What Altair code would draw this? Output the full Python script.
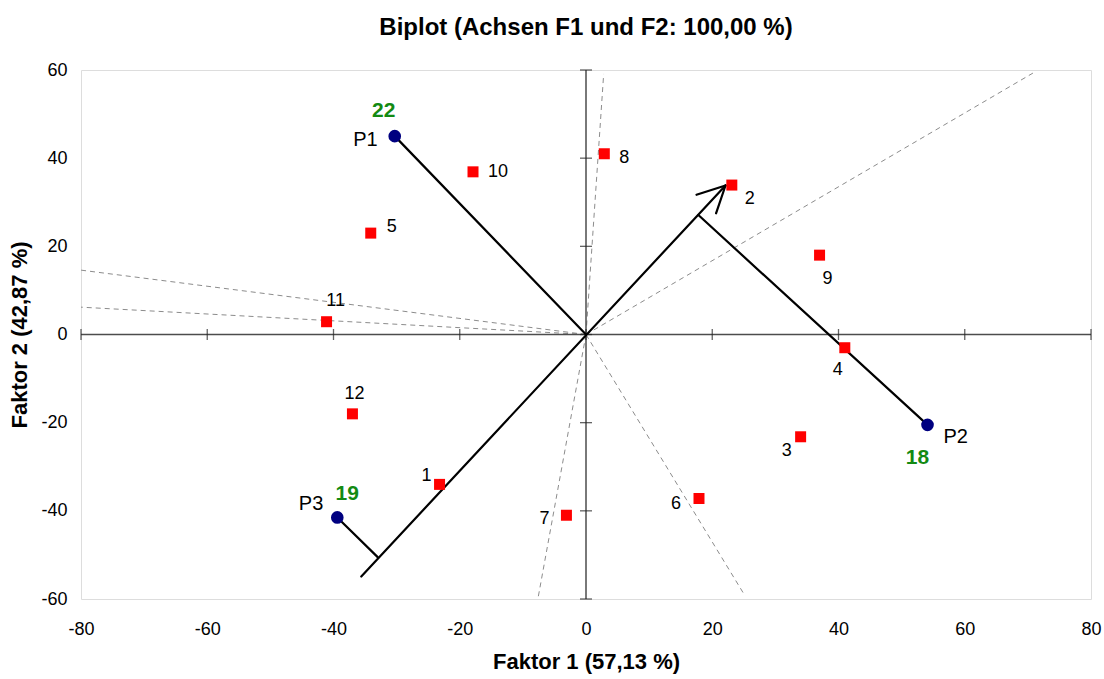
import altair as alt
import pandas as pd

# Observations (factor scores)
obs_labels = ["1", "2", "3", "4", "5", "6", "7", "8", "9", "10", "11", "12"]
obs_f1 = [-23.2, 23.1, 34.0, 41.0, -34.1, 17.9, -3.1, 2.9, 37.0, -17.9, -41.1, -37.0]
obs_f2 = [-34.0, 33.9, -23.2, -3.0, 23.0, -37.2, -41.0, 41.0, 18.0, 36.9, 2.9, -18.0]

# Preference points
pref_labels = ["P1", "P2", "P3"]
pref_f1 = [-30.3, 54.1, -39.4]
pref_f2 = [45.0, -20.5, -41.5]
pref_counts = ["22", "18", "19"]

# Dashed rays from the origin (end points)
ray_f1 = [70.8, 2.8, -7.6, 25.2, -80.0, -80.0]
ray_f2 = [59.3, 59.1, -59.8, -59.3, 14.6, 6.2]

# Preference axis (solid), projection lines and arrow head
axis_start = (-35.6, -54.9)
axis_tip = (22.1, 33.8)
proj_feet_f1 = [0.0, 17.8, -33.0]
proj_feet_f2 = [0.0, 27.1, -50.5]
arrow_wing_f1 = [17.5, 20.6]
arrow_wing_f2 = [31.7, 27.5]

x_ticks = [-80, -60, -40, -20, 0, 20, 40, 60, 80]
y_ticks = [-60, -40, -20, 0, 20, 40, 60]

FONT = "Liberation Sans"
PLAIN_NUMBER = "'' + datum.value"

xscale = alt.Scale(domain=[-80, 80], nice=False, zero=False)
yscale = alt.Scale(domain=[-60, 60], nice=False, zero=False)

x_axis = alt.Axis(values=x_ticks, grid=False, domain=False, ticks=False,
                  labelExpr=PLAIN_NUMBER, labelFlush=False,
                  labelFontSize=18, labelPadding=21, labelFont=FONT, labelColor="#000",
                  title="Faktor 1 (57,13 %)", titleFontSize=22, titleFont=FONT,
                  titleFontWeight="bold", titlePadding=13, titleColor="#000")
y_axis = alt.Axis(values=y_ticks, grid=False, domain=False, ticks=False,
                  labelExpr=PLAIN_NUMBER, labelFlush=False,
                  labelFontSize=18, labelPadding=14, labelFont=FONT, labelColor="#000",
                  title="Faktor 2 (42,87 %)", titleFontSize=22, titleFont=FONT,
                  titleFontWeight="bold", titlePadding=9, titleColor="#000")


def X(field="x"):
    return alt.X(f"{field}:Q", scale=xscale, axis=x_axis)


def Y(field="y"):
    return alt.Y(f"{field}:Q", scale=yscale, axis=y_axis)


# Dashed rays
rays = pd.DataFrame({"x": [0.0] * len(ray_f1), "y": [0.0] * len(ray_f1),
                     "x2": ray_f1, "y2": ray_f2})
ray_layer = alt.Chart(rays).mark_rule(color="#8c8c8c", strokeWidth=1,
                                      strokeDash=[5, 4]).encode(
    x=X(), y=Y(), x2="x2:Q", y2="y2:Q")

# Zero axes
zero_axes = pd.DataFrame({"x": [-80.0, 0.0], "y": [0.0, -60.0],
                          "x2": [80.0, 0.0], "y2": [0.0, 60.0]})
zero_layer = alt.Chart(zero_axes).mark_rule(color="#4d4d4d", strokeWidth=1.5).encode(
    x=X(), y=Y(), x2="x2:Q", y2="y2:Q")

# Cross ticks on the zero axes
xt = pd.DataFrame({"x": x_ticks, "y": [0.0] * len(x_ticks)})
yt = pd.DataFrame({"x": [0.0] * len(y_ticks), "y": y_ticks})
xtick_layer = alt.Chart(xt).mark_tick(orient="vertical", size=11, thickness=1.3,
                                      color="#222").encode(x=X(), y=Y())
ytick_layer = alt.Chart(yt).mark_tick(orient="horizontal", size=12, thickness=1.3,
                                      color="#222").encode(x=X(), y=Y())

# Preference axis with arrow, and projection lines
segs = [dict(x=axis_start[0], y=axis_start[1], x2=axis_tip[0], y2=axis_tip[1])]
for wx, wy in zip(arrow_wing_f1, arrow_wing_f2):
    segs.append(dict(x=axis_tip[0], y=axis_tip[1], x2=wx, y2=wy))
for px, py, fx, fy in zip(pref_f1, pref_f2, proj_feet_f1, proj_feet_f2):
    segs.append(dict(x=px, y=py, x2=fx, y2=fy))
seg_layer = alt.Chart(pd.DataFrame(segs)).mark_rule(color="#000", strokeWidth=2.2,
                                                    strokeCap="round").encode(
    x=X(), y=Y(), x2="x2:Q", y2="y2:Q")

# Observation squares
obs = pd.DataFrame({"x": obs_f1, "y": obs_f2, "label": obs_labels})
obs_layer = alt.Chart(obs).mark_square(size=121, color="#ff0000", opacity=1).encode(
    x=X(), y=Y())

# Preference circles
pref = pd.DataFrame({"x": pref_f1, "y": pref_f2, "label": pref_labels,
                     "count": pref_counts})
pref_layer = alt.Chart(pref).mark_circle(size=160, color="#000080", opacity=1).encode(
    x=X(), y=Y())

# Label placement (align, dx, dy in pixels)
obs_place = {
    "1": ("center", -13, -8), "2": ("left", 13, 14), "3": ("center", -14, 14),
    "4": ("center", -7, 22), "5": ("left", 16, -6), "6": ("center", -23, 6),
    "7": ("center", -22, 4), "8": ("left", 15, 4), "9": ("center", 8, 24),
    "10": ("left", 15, 0), "11": ("center", 9, -21), "12": ("center", 2, -20),
}
pref_place = {"P1": ("right", -17, 4), "P2": ("left", 16, 12), "P3": ("right", -14, -13)}
count_place = {"P1": (-11, -25), "P2": (-10, 33), "P3": (10, -23)}

layers = [ray_layer, zero_layer, xtick_layer, ytick_layer, seg_layer, obs_layer, pref_layer]

for lab, fx, fy in zip(obs_labels, obs_f1, obs_f2):
    al, dx, dy = obs_place[lab]
    d = pd.DataFrame({"x": [fx], "y": [fy], "t": [lab]})
    layers.append(alt.Chart(d).mark_text(align=al, baseline="middle", dx=dx, dy=dy,
                                         font=FONT, fontSize=18, color="#000").encode(
        x=X(), y=Y(), text="t:N"))

for lab, fx, fy, cnt in zip(pref_labels, pref_f1, pref_f2, pref_counts):
    al, dx, dy = pref_place[lab]
    d = pd.DataFrame({"x": [fx], "y": [fy], "t": [lab], "c": [cnt]})
    layers.append(alt.Chart(d).mark_text(align=al, baseline="middle", dx=dx, dy=dy,
                                         font=FONT, fontSize=20, color="#000").encode(
        x=X(), y=Y(), text="t:N"))
    cdx, cdy = count_place[lab]
    layers.append(alt.Chart(d).mark_text(align="center", baseline="middle", dx=cdx, dy=cdy,
                                         font=FONT, fontSize=21, fontWeight="bold",
                                         color="#138a13").encode(
        x=X(), y=Y(), text="c:N"))

chart = alt.layer(*layers).properties(
    width=1010, height=529,
    title=alt.TitleParams("Biplot (Achsen F1 und F2: 100,00 %)", fontSize=24,
                          font=FONT, fontWeight="bold", color="#000",
                          anchor="middle", offset=21),
    autosize=alt.AutoSizeParams(type="none"),
    padding={"left": 81, "top": 70, "right": 13, "bottom": 80},
).configure_view(stroke="#999999", strokeWidth=1.2).configure(background="white")

chart.save("out.html", embed_options={"renderer": "svg", "actions": False})
